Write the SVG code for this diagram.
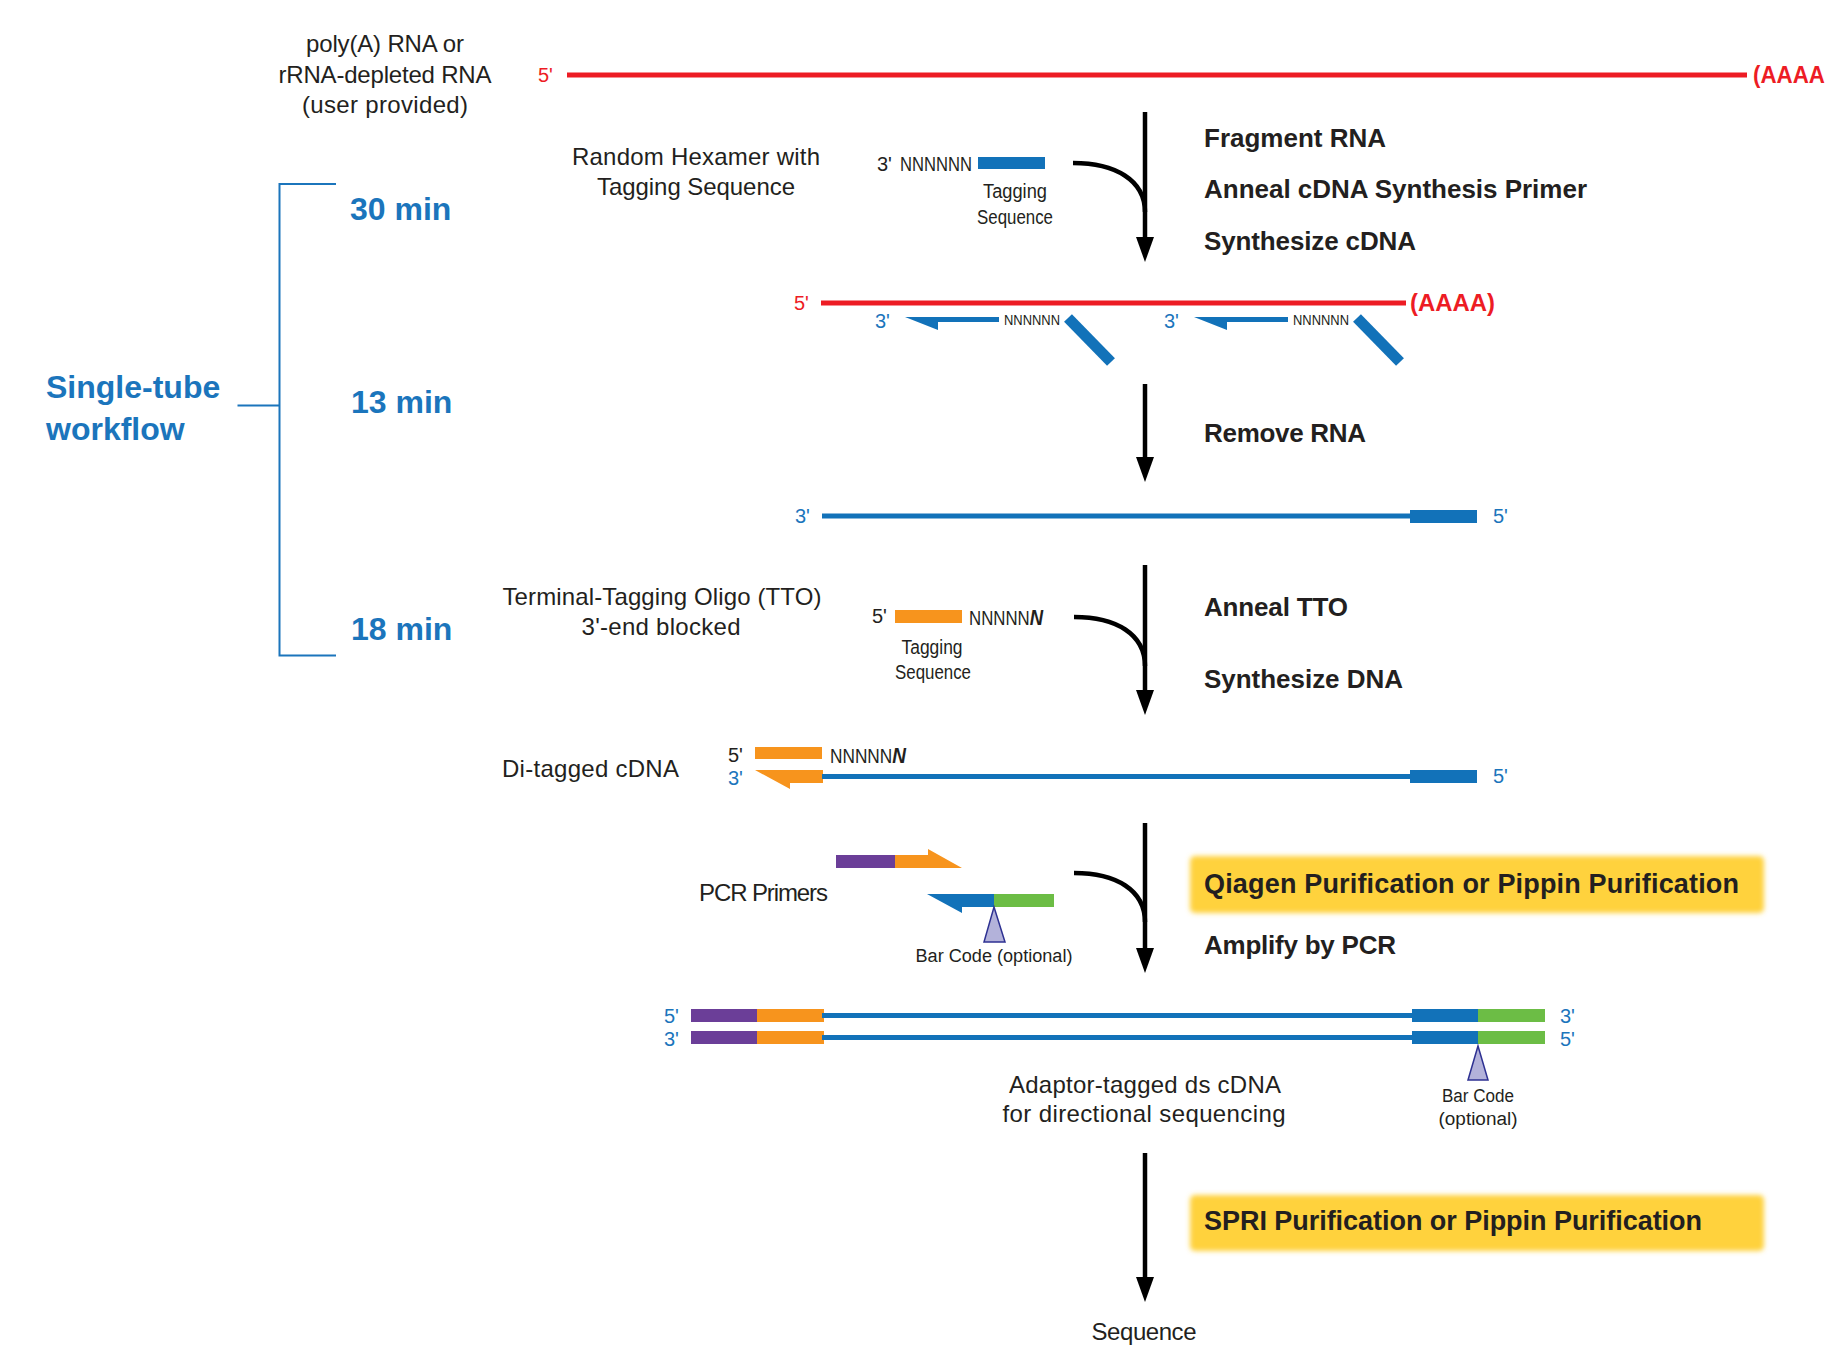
<svg xmlns="http://www.w3.org/2000/svg" width="1826" height="1349" viewBox="0 0 1826 1349">
<style>
text{font-family:"Liberation Sans",Arial,sans-serif;fill:#231f20}
.t{font-size:24px}
.b{font-size:26px;font-weight:bold}
.box{font-size:27px;font-weight:bold}
.s{font-size:20px}
.xs{font-size:14px}
.bc{font-size:18px}
.m{text-anchor:middle}
.blue{fill:#1b75bc}
.red{fill:#ed1c24}
.redb{fill:#ed1c24;font-weight:bold;font-size:24px}
.wf{font-size:32px;font-weight:bold;fill:#1b75bc}
.bi{font-weight:bold;font-style:italic;font-size:22px}
.bk{fill:none;stroke:#1b75bc;stroke-width:2}
.conn{fill:none;stroke:#000;stroke-width:4.5}
.rna{stroke:#ed1c24;stroke-width:5}
.dna{stroke:#1272b9;stroke-width:5}
.fb{fill:#1272b9}
.fo{fill:#f7941d}
.fp{fill:#6b3e98}
.fg{fill:#6cbd45}
.tri{fill:#b3b2da;stroke:#2e3192;stroke-width:1.5}
.ybox{fill:#ffd23c}
</style>
<defs>
<marker id="ah" markerUnits="userSpaceOnUse" markerWidth="25" markerHeight="18" viewBox="0 0 25 18" refX="1" refY="9" orient="auto">
<path d="M0,0 L25,9 L0,18 z" fill="#000"/>
</marker>
<filter id="soft" x="-5%" y="-20%" width="110%" height="140%">
<feGaussianBlur stdDeviation="2.5"/>
</filter>
</defs>

<g id="workflow-bracket">
<path class="bk" d="M336,184 H279.5 V655.5 H336 M237.5,405.5 H279.5"/>
<text class="wf" x="46" y="398">Single-tube</text>
<text class="wf" x="46" y="440">workflow</text>
<text class="wf" x="350" y="220">30 min</text>
<text class="wf" x="351" y="413">13 min</text>
<text class="wf" x="351" y="640">18 min</text>
</g>

<g id="input-rna">
<text class="t m" x="385" y="52" textLength="158">poly(A) RNA or</text>
<text class="t m" x="385" y="83" textLength="213">rRNA-depleted RNA</text>
<text class="t m" x="385" y="113" textLength="166">(user provided)</text>
<text class="s red" x="538" y="82">5'</text>
<line class="rna" x1="567" y1="75" x2="1747" y2="75"/>
<text class="redb" x="1753" y="83" textLength="72" lengthAdjust="spacingAndGlyphs">(AAAA</text>
</g>

<g id="random-hexamer">
<text class="t m" x="696" y="165" textLength="248">Random Hexamer with</text>
<text class="t m" x="696" y="195" textLength="198">Tagging Sequence</text>
<text class="s" x="877" y="171">3'</text>
<text class="s" x="900" y="171" textLength="72" lengthAdjust="spacingAndGlyphs">NNNNNN</text>
<rect class="fb" x="978" y="157" width="67" height="12"/>
<text class="s m" x="1015" y="198" font-size="21" textLength="64" lengthAdjust="spacingAndGlyphs">Tagging</text>
<text class="s m" x="1015" y="224" font-size="21" textLength="76" lengthAdjust="spacingAndGlyphs">Sequence</text>
</g>

<g id="step1-labels">
<text class="b" x="1204" y="147" textLength="182">Fragment RNA</text>
<text class="b" x="1204" y="198" textLength="383">Anneal cDNA Synthesis Primer</text>
<text class="b" x="1204" y="250" textLength="212">Synthesize cDNA</text>
</g>

<g id="annealed-primers">
<text class="s red" x="794" y="310">5'</text>
<line class="rna" x1="821" y1="303" x2="1406" y2="303"/>
<text class="redb" x="1410" y="311" textLength="85" lengthAdjust="spacingAndGlyphs">(AAAA)</text>
<text class="s blue" x="875" y="328">3'</text>
<polygon class="fb" points="905,317 999,317 999,322 938,322 938,330"/>
<text class="xs" x="1004" y="325" textLength="56" lengthAdjust="spacingAndGlyphs">NNNNNN</text>
<line stroke="#1272b9" stroke-width="11" x1="1068" y1="318" x2="1111" y2="362"/>
<text class="s blue" x="1164" y="328">3'</text>
<polygon class="fb" points="1194,317 1288,317 1288,322 1227,322 1227,330"/>
<text class="xs" x="1293" y="325" textLength="56" lengthAdjust="spacingAndGlyphs">NNNNNN</text>
<line stroke="#1272b9" stroke-width="11" x1="1357" y1="318" x2="1400" y2="362"/>
</g>

<g id="step2-labels">
<text class="b" x="1204" y="442" textLength="162">Remove RNA</text>
</g>

<g id="cdna">
<text class="s blue" x="795" y="523">3'</text>
<line class="dna" x1="822" y1="516" x2="1412" y2="516"/>
<rect class="fb" x="1410" y="510" width="67" height="13"/>
<text class="s blue" x="1493" y="523">5'</text>
</g>

<g id="tto">
<text class="t m" x="662" y="605" textLength="319">Terminal-Tagging Oligo (TTO)</text>
<text class="t m" x="661" y="635" textLength="159">3'-end blocked</text>
<text class="s" x="872" y="623">5'</text>
<rect class="fo" x="895" y="610" width="67" height="13"/>
<text class="s" x="969" y="625" font-size="21" textLength="74" lengthAdjust="spacingAndGlyphs">NNNNN<tspan class="bi">N</tspan></text>
<text class="s m" x="932" y="654" font-size="21" textLength="61" lengthAdjust="spacingAndGlyphs">Tagging</text>
<text class="s m" x="933" y="679" font-size="21" textLength="76" lengthAdjust="spacingAndGlyphs">Sequence</text>
</g>

<g id="step3-labels">
<text class="b" x="1204" y="616" textLength="144">Anneal TTO</text>
<text class="b" x="1204" y="688" textLength="199">Synthesize DNA</text>
</g>

<g id="di-tagged-cdna">
<text class="t" x="502" y="777" textLength="177">Di-tagged cDNA</text>
<text class="s" x="728" y="762">5'</text>
<rect class="fo" x="755" y="747" width="67" height="12"/>
<text class="s" x="830" y="763" font-size="21" textLength="76" lengthAdjust="spacingAndGlyphs">NNNNN<tspan class="bi">N</tspan></text>
<text class="s blue" x="728" y="785">3'</text>
<polygon class="fo" points="755,770 823,770 823,783 790,783 790,789"/>
<line class="dna" x1="822" y1="776.5" x2="1412" y2="776.5"/>
<rect class="fb" x="1410" y="770" width="67" height="13"/>
<text class="s blue" x="1493" y="783">5'</text>
</g>

<g id="pcr-primers">
<text class="t" x="699" y="901" textLength="129">PCR Primers</text>
<rect class="fp" x="836" y="855" width="59" height="13"/>
<polygon class="fo" points="895,855 928,855 928,849 962,868 895,868"/>
<polygon class="fb" points="927,894 994,894 994,907 962,907 962,913"/>
<rect class="fg" x="994" y="894" width="60" height="13"/>
<polygon class="tri" points="994,907 1005,942 984,942"/>
<text class="bc m" x="994" y="962" textLength="157" lengthAdjust="spacingAndGlyphs">Bar Code (optional)</text>
</g>

<g id="qiagen-box">
<rect class="ybox" x="1190" y="856" width="574" height="57" rx="5" filter="url(#soft)"/>
<text class="box" x="1204" y="893" textLength="535">Qiagen Purification or Pippin Purification</text>
</g>

<g id="step4-labels">
<text class="b" x="1204" y="954" textLength="192">Amplify by PCR</text>
</g>

<g id="ds-cdna">
<text class="s blue" x="664" y="1023">5'</text>
<rect class="fp" x="691" y="1009" width="66" height="13"/>
<rect class="fo" x="757" y="1009" width="67" height="13"/>
<line class="dna" x1="822" y1="1015.5" x2="1414" y2="1015.5"/>
<rect class="fb" x="1412" y="1009" width="66" height="13"/>
<rect class="fg" x="1478" y="1009" width="67" height="13"/>
<text class="s blue" x="1560" y="1023">3'</text>
<text class="s blue" x="664" y="1046">3'</text>
<rect class="fp" x="691" y="1031" width="66" height="13"/>
<rect class="fo" x="757" y="1031" width="67" height="13"/>
<line class="dna" x1="822" y1="1037.5" x2="1414" y2="1037.5"/>
<rect class="fb" x="1412" y="1031" width="66" height="13"/>
<rect class="fg" x="1478" y="1031" width="67" height="13"/>
<text class="s blue" x="1560" y="1046">5'</text>
<polygon class="tri" points="1478,1046 1488,1080 1468,1080"/>
<text class="bc m" x="1478" y="1102" textLength="72" lengthAdjust="spacingAndGlyphs">Bar Code</text>
<text class="bc m" x="1478" y="1125" textLength="79" lengthAdjust="spacingAndGlyphs">(optional)</text>
<text class="t m" x="1145" y="1093" textLength="272">Adaptor-tagged ds cDNA</text>
<text class="t m" x="1144" y="1122" textLength="283">for directional sequencing</text>
</g>

<g id="spri-box">
<rect class="ybox" x="1190" y="1195" width="574" height="56" rx="5" filter="url(#soft)"/>
<text class="box" x="1204" y="1230" textLength="498">SPRI Purification or Pippin Purification</text>
</g>

<g id="sequence">
<text class="t m" x="1144" y="1340" textLength="105">Sequence</text>
</g>

<g id="connectors">
<path class="conn" d="M1073,163 C1115,163 1145,180 1145,212"/>
<line class="conn" x1="1145" y1="112" x2="1145" y2="238" marker-end="url(#ah)"/>
<line class="conn" x1="1145" y1="384" x2="1145" y2="458" marker-end="url(#ah)"/>
<path class="conn" d="M1074,617 C1116,617 1145,634 1145,666"/>
<line class="conn" x1="1145" y1="565" x2="1145" y2="691" marker-end="url(#ah)"/>
<path class="conn" d="M1074,873 C1116,873 1145,890 1145,922"/>
<line class="conn" x1="1145" y1="823" x2="1145" y2="949" marker-end="url(#ah)"/>
<line class="conn" x1="1145" y1="1153" x2="1145" y2="1278" marker-end="url(#ah)"/>
</g>
</svg>
